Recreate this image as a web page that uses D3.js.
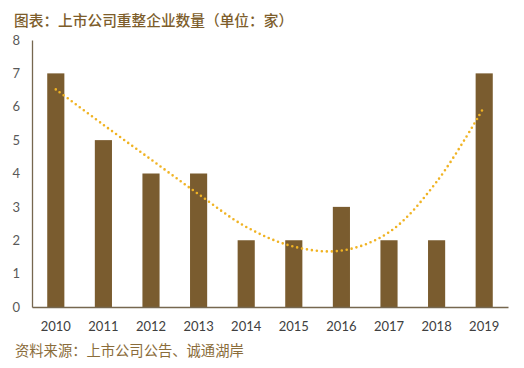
<!DOCTYPE html>
<html><head><meta charset="utf-8">
<script src="https://cdn.jsdelivr.net/npm/d3@7"></script>
<style>body{margin:0;background:#fff}svg{display:block}</style>
</head><body>
<svg id="c" width="524" height="368"></svg>
<script>
const years = ["2010","2011","2012","2013","2014","2015","2016","2017","2018","2019"];
const counts = [7,5,4,4,2,2,3,2,2,7];
const trend = [6.52,5.46,4.42,3.38,2.40,1.81,1.69,2.24,3.75,6.0];
const yTicks = [0,1,2,3,4,5,6,7,8];
const titleText = "图表：上市公司重整企业数量（单位：家）";
const sourceText = "资料来源：上市公司公告、诚通湖岸";

const svg = d3.select("#c");
const m = {l:32, r:16, t:40, b:61};
const W = 524, H = 368;
const x = d3.scaleBand().domain(years).range([m.l, W - m.r]).paddingInner(0.64).paddingOuter(0.32);
const y = d3.scaleLinear().domain([0,8]).range([H - m.b, m.t]);

svg.append("text").attr("x",14).attr("y",26)
  .attr("font-family","'Noto Sans CJK SC'").attr("font-size",14.7).attr("font-weight",500)
  .attr("fill","#7d5d2b").text(titleText);

svg.append("g").selectAll("rect").data(counts).join("rect")
  .attr("x",(d,i)=>x(years[i])).attr("width",x.bandwidth())
  .attr("y",d=>y(d)).attr("height",d=>y(0)-y(d)).attr("fill","#7a5c2f");

const yAxis = svg.append("g").attr("transform",`translate(${m.l},0)`)
  .call(d3.axisLeft(y).tickValues(yTicks).tickSize(0).tickPadding(12).tickFormat(d3.format("d")));
yAxis.select(".domain").attr("stroke","#76674f").attr("stroke-width",1.3);
yAxis.selectAll("text").attr("font-family","Lato, 'Open Sans', sans-serif").attr("font-size",13).attr("fill","#595959");

const xAxis = svg.append("g").attr("transform",`translate(0,${y(0)})`)
  .call(d3.axisBottom(x).tickSize(0).tickPadding(15));
xAxis.select(".domain").attr("stroke","#76674f").attr("stroke-width",1.3);
xAxis.selectAll("text").attr("font-family","Lato, 'Open Sans', sans-serif").attr("font-size",13).attr("fill","#404040");

const line = d3.line().x((d,i)=>x(years[i]) + x.bandwidth()/2).y(d=>y(d)).curve(d3.curveCatmullRom.alpha(0.5));
svg.append("path").datum(trend).attr("d",line).attr("fill","none")
  .attr("stroke","#f0b323").attr("stroke-width",2.6).attr("stroke-linecap","round")
  .attr("stroke-dasharray","0,5");

svg.append("text").attr("x",15).attr("y",356)
  .attr("font-family","'Noto Sans CJK SC'").attr("font-size",14.3).attr("font-weight",400)
  .attr("fill","#8a6c3a").text(sourceText);
</script>
</body></html>
